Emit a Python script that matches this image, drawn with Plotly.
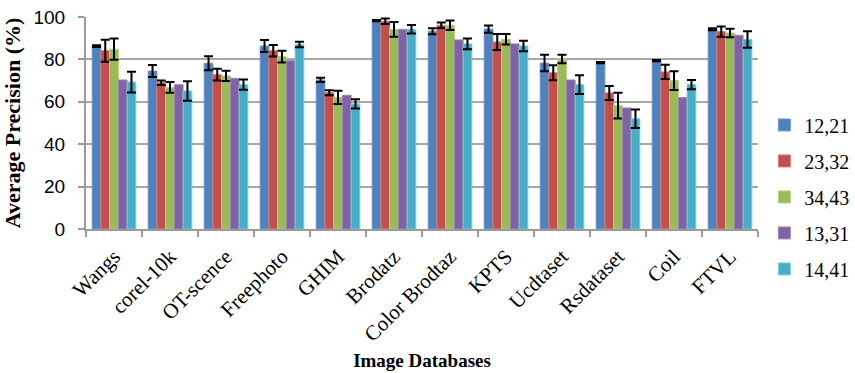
import plotly.graph_objects as go

categories = ["Wangs", "corel-10k", "OT-scence", "Freephoto", "GHIM", "Brodatz",
              "Color Brodtaz", "KPTS", "Ucdtaset", "Rsdataset", "Coil", "FTVL"]
series_names = ["12,21", "23,32", "34,43", "13,31", "14,41"]

s1 = [86.3, 74.5, 78.2, 86.3, 70.3, 98.3, 93.3, 94.3, 78.3, 78.5, 79.4, 94.2]
s1_err = [0.4, 2.8, 3.3, 2.8, 1.0, 0.3, 1.4, 1.7, 3.9, 0.3, 0.3, 0.5]
s2 = [84.1, 69.0, 72.8, 84.1, 64.3, 98.0, 96.1, 88.2, 73.7, 64.2, 74.1, 93.1]
s2_err = [5.2, 1.1, 2.8, 2.7, 1.2, 1.3, 1.25, 3.8, 3.5, 3.3, 3.4, 2.4]
s3 = [84.8, 66.8, 72.2, 81.3, 62.1, 94.2, 96.1, 89.5, 80.2, 58.2, 70.0, 92.5]
s3_err = [5.0, 2.5, 2.4, 2.8, 3.1, 3.5, 2.2, 2.5, 2.0, 6.1, 4.4, 2.0]
s4 = [70.3, 68.1, 71.1, 79.4, 63.1, 94.2, 89.2, 87.3, 70.3, 57.1, 62.0, 91.4]
s5 = [69.3, 65.1, 68.1, 87.0, 59.0, 94.2, 87.3, 86.3, 68.1, 52.0, 68.1, 89.4]
s5_err = [4.9, 4.6, 2.4, 1.3, 2.2, 2.0, 2.5, 2.5, 4.4, 4.4, 2.2, 3.9]

values = [s1, s2, s3, s4, s5]
errors = [s1_err, s2_err, s3_err, None, s5_err]
colors = ["#4F81BD", "#C0504D", "#9BBB59", "#8064A2", "#4BACC6"]
edge = ["#6E9AD0", "#D67A78", "#B5D07E", "#9C86BA", "#7CC8DC"]

fig = go.Figure()
for i, name in enumerate(series_names):
    kw = {}
    if errors[i] is not None:
        kw["error_y"] = dict(type="data", array=errors[i], visible=True,
                             color="black", thickness=2, width=4.5)
    fig.add_trace(go.Bar(
        x=categories, y=values[i], name=name, legendgroup=name,
        marker=dict(color=colors[i], line=dict(color=edge[i], width=1)),
        **kw))

fig.update_layout(
    width=855, height=373,
    margin=dict(l=86, r=97, t=17, b=144),
    plot_bgcolor="white", paper_bgcolor="white",
    barmode="group", bargap=0.22, bargroupgap=0,
    legend=dict(xref="container", yref="container",
                x=0.894, y=0.472, xanchor="left", yanchor="middle",
                font=dict(family="Liberation Serif", size=20, color="#000"),
                tracegroupgap=7, itemwidth=30),
    xaxis=dict(
        title=dict(text="<b>Image Databases</b>",
                   font=dict(family="Liberation Serif", size=19, color="#000"),
                   standoff=8),
        automargin=False,
        tickangle=-45, tickfont=dict(family="Liberation Serif", size=21, color="#000"),
        ticklabelstandoff=5,
        showline=True, linecolor="#9a9a9a", linewidth=2,
        ticks="outside", tickson="boundaries", ticklen=6, tickcolor="#9a9a9a",
        tickwidth=1.5,
    ),
    yaxis=dict(
        title=dict(text="<b>Average Precision (%)</b>",
                   font=dict(family="Liberation Serif", size=22, color="#000")),
        automargin=False,
        range=[0, 100], dtick=20,
        tickfont=dict(family="Liberation Sans", size=19, color="#000"),
        ticklabelstandoff=9,
        showgrid=True, gridcolor="#a6a6a6", gridwidth=1.5,
        showline=True, linecolor="#9a9a9a", linewidth=2,
        ticks="outside", ticklen=6, tickcolor="#9a9a9a", tickwidth=1.5,
        zeroline=False,
    ),
)

fig.write_html("out.html", config={"displayModeBar": False},
               post_script="document.body.style.margin='0px';")
